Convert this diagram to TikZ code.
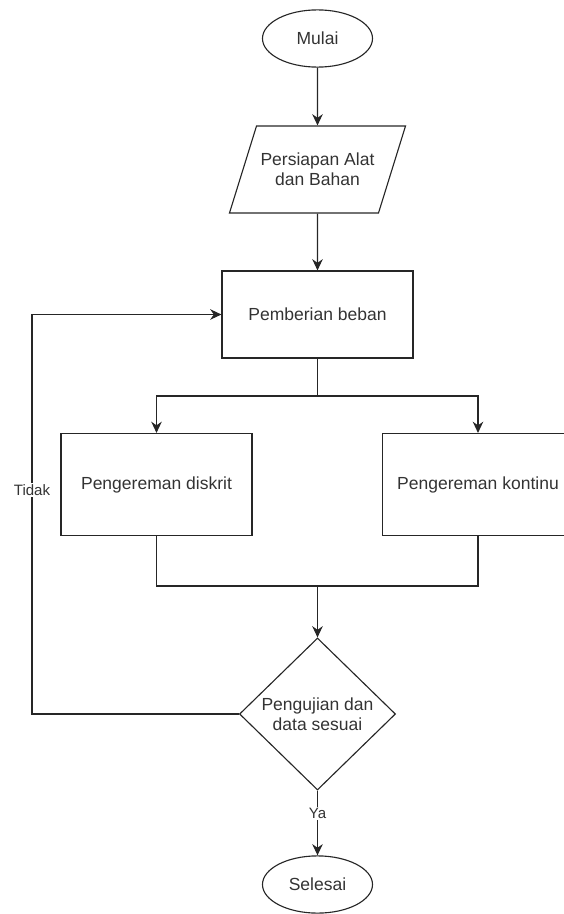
\documentclass[tikz,border=0pt]{standalone}
\usepackage{fontspec}
\setmainfont{Liberation Sans}
\usetikzlibrary{shapes.geometric,arrows.meta}

\begin{document}
\begin{tikzpicture}[x=0.025cm,y=-0.025cm,line width=0.8pt,color=black!85,
    every node/.style={font=\fontsize{12.45}{14.5}\selectfont,text=black!80,align=center},
    terminal/.style={draw,ellipse,minimum width=2.75cm,minimum height=1.43cm,inner sep=0pt},
    masukan/.style={draw,trapezium,trapezium left angle=71.6,trapezium right angle=108.4,
        minimum width=4.4cm,minimum height=2.175cm,trapezium stretches body,
        inner xsep=0pt,inner ysep=0.6cm},
    proses/.style={draw,rectangle,minimum width=4.775cm,minimum height=#1},
    proses/.default=2.175cm,
    keputusan/.style={draw,diamond,minimum width=3.9cm,minimum height=3.8cm,inner sep=0pt},
    panah/.style={-{Stealth[length=8pt,width=7.5pt]}},
    ket/.style={fill=white,font=\fontsize{10.7}{12}\selectfont,inner sep=1pt}]
        \clip (0,0) rectangle (564,914);
        \node[terminal] (mulai) at (317.5,38.5) {Mulai};
        \node[masukan] (persiapan) at (317.5,169.5) {Persiapan Alat\\dan Bahan};
        \node[proses] (beban) at (317.5,314.5) {Pemberian beban};
        \node[proses=2.55cm] (diskrit) at (156.5,484.5) {Pengereman diskrit};
        \node[proses=2.55cm] (kontinu) at (478,484.5) {Pengereman kontinu};
        \node[keputusan] (uji) at (317.5,714) {Pengujian dan\\data sesuai};
        \node[terminal] (selesai) at (317.5,884.5) {Selesai};
        \coordinate (pisah) at (317.5,396);
        \coordinate (gabung) at (317.5,586);
        \coordinate (balik) at (32,714);
        \draw[panah] (mulai) -- (persiapan);
        \draw[panah] (persiapan) -- (beban);
        \draw (beban) -- (pisah);
        \draw[panah] (pisah) -| (diskrit);
        \draw[panah] (pisah) -| (kontinu);
        \draw (diskrit) |- (gabung);
        \draw (kontinu) |- (gabung);
        \draw[panah] (gabung) -- (uji);
        \draw[panah] (uji) -- node[ket,pos=0.35] {Ya} (selesai);
        \draw[panah] (uji.west) -- (balik) |- node[ket,pos=0.28] {Tidak} (beban.west);
    \end{tikzpicture}
\end{document}
